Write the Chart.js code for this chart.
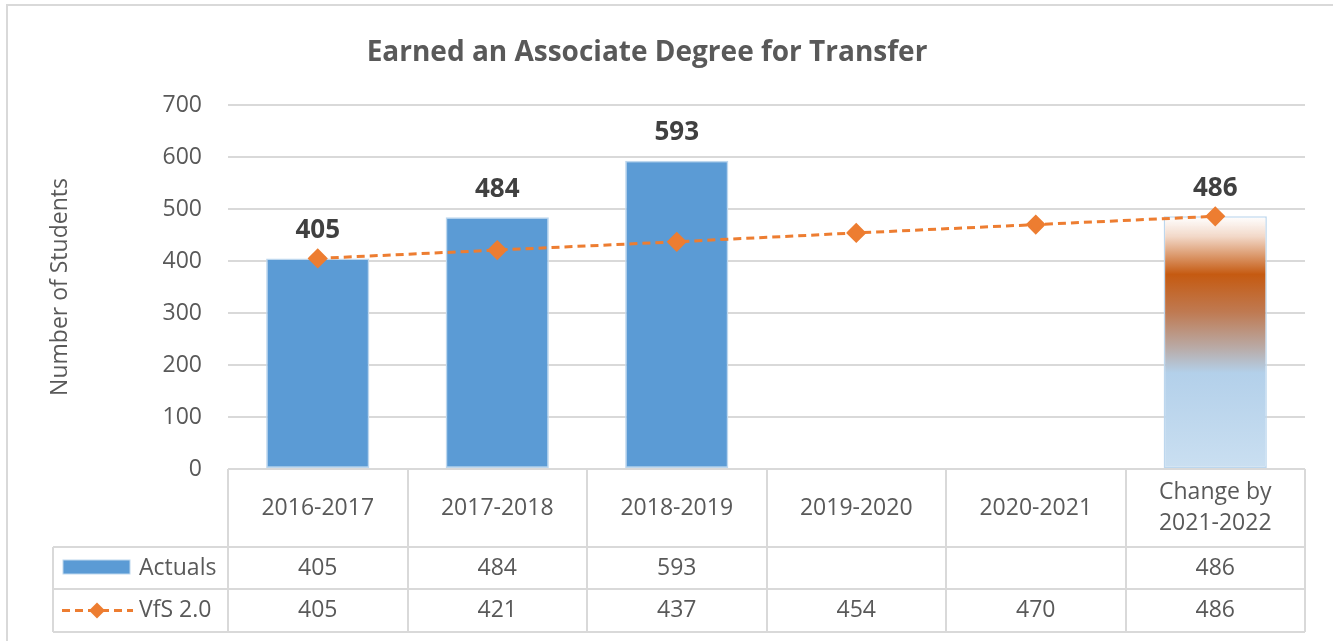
<!DOCTYPE html>
<html>
<head>
<meta charset="utf-8">
<script src="https://cdn.jsdelivr.net/npm/chart.js@4.4.1/dist/chart.umd.min.js"></script>
<style>
  html, body { margin: 0; padding: 0; background: #fff; }
  #wrap { position: relative; width: 1333px; height: 641px; }
</style>
</head>
<body>
<div id="wrap"><canvas id="adtChart" width="1333" height="641"></canvas></div>
<script>
const years = ["2016-2017", "2017-2018", "2018-2019", "2019-2020", "2020-2021", ["Change by", "2021-2022"]];
const actuals = [405, 484, 593, null, null, 486];
const vfsGoal = [405, 421, 437, 454, 470, 486];
const yTicks = [0, 100, 200, 300, 400, 500, 600, 700];

const font = "'Open Sans', Lato, sans-serif";
const grey = "#595959";
const lineColor = "#d9d9d9";

// last bar is the goal bar, drawn with the faded orange/blue fill
function barFill(context) {
  const i = context.dataIndex;
  if (i !== actuals.length - 1) return "#5b9bd5";
  const chart = context.chart;
  const y = chart.scales.y;
  if (!y || !chart.chartArea) return "#b4d1ea";
  const top = y.getPixelForValue(actuals[i]);
  const bottom = y.getPixelForValue(0);
  const g = chart.ctx.createLinearGradient(0, top, 0, bottom);
  g.addColorStop(0, "rgba(255,255,255,0.9)");
  g.addColorStop(0.08, "#f2d8c8");
  g.addColorStop(0.23, "#c55a11");
  g.addColorStop(0.38, "#bf7a52");
  g.addColorStop(0.52, "#b9aaa6");
  g.addColorStop(0.62, "#b3d0ea");
  g.addColorStop(1, "#cadff1");
  return g;
}

const decorations = {
  id: "decorations",
  beforeDraw(chart) {
    const ctx = chart.ctx;
    ctx.save();
    ctx.strokeStyle = lineColor;
    ctx.lineWidth = 2;
    ctx.strokeRect(7, 5, 1345, 640);
    ctx.restore();
  },
  afterDraw(chart) {
    const ctx = chart.ctx;
    const x = chart.scales.x;
    const area = chart.chartArea;
    const colW = x.width / years.length;
    const legendLeft = 53;
    const rowTop = area.bottom;
    const row1 = 547, row2 = 589, row3 = 632;

    ctx.save();
    // title
    ctx.fillStyle = grey;
    ctx.font = "bold 28px " + font;
    ctx.textAlign = "center";
    ctx.textBaseline = "middle";
    ctx.fillText("Earned an Associate Degree for Transfer", 647, 53);

    // value labels above bars
    const barMeta = chart.getDatasetMeta(0);
    ctx.fillStyle = "#404040";
    ctx.font = "bold 26px " + font;
    actuals.forEach((v, i) => {
      if (v == null) return;
      const bar = barMeta.data[i];
      ctx.fillText(String(v), bar.x, bar.y - 28);
    });

    // data table grid
    ctx.strokeStyle = lineColor;
    ctx.lineWidth = 2;
    ctx.beginPath();
    for (let i = 0; i <= years.length; i++) {
      const cx = Math.round(area.left + i * colW);
      ctx.moveTo(cx, rowTop);
      ctx.lineTo(cx, row3);
    }
    ctx.moveTo(legendLeft, row1);
    ctx.lineTo(legendLeft, row3);
    [row1, row2, row3].forEach((ry) => {
      ctx.moveTo(legendLeft, ry);
      ctx.lineTo(area.right, ry);
    });
    ctx.stroke();

    // table text
    ctx.fillStyle = grey;
    ctx.font = "23px " + font;
    ctx.textAlign = "center";
    years.forEach((lab, i) => {
      const cx = x.getPixelForValue(i);
      if (Array.isArray(lab)) {
        ctx.fillText(lab[0], cx, 492);
        ctx.fillText(lab[1], cx, 523);
      } else {
        ctx.fillText(lab, cx, 508);
      }
      if (actuals[i] != null) ctx.fillText(String(actuals[i]), cx, (row1 + row2) / 2);
      if (vfsGoal[i] != null) ctx.fillText(String(vfsGoal[i]), cx, (row2 + row3) / 2);
    });

    // legend keys
    ctx.textAlign = "left";
    ctx.fillStyle = "#5b9bd5";
    ctx.fillRect(63, 560, 67, 14);
    ctx.strokeStyle = "#bdd7ee";
    ctx.lineWidth = 1;
    ctx.strokeRect(63, 560, 67, 14);
    ctx.fillStyle = grey;
    ctx.fillText("Actuals", 139, (row1 + row2) / 2);

    const ly = (row2 + row3) / 2;
    ctx.strokeStyle = "#ed7d31";
    ctx.lineWidth = 3;
    ctx.setLineDash([8, 5]);
    ctx.beginPath();
    ctx.moveTo(62, ly);
    ctx.lineTo(133, ly);
    ctx.stroke();
    ctx.setLineDash([]);
    ctx.fillStyle = "#ed7d31";
    ctx.beginPath();
    ctx.moveTo(97, ly - 8);
    ctx.lineTo(105, ly);
    ctx.lineTo(97, ly + 8);
    ctx.lineTo(89, ly);
    ctx.closePath();
    ctx.fill();
    ctx.fillStyle = grey;
    ctx.fillText("VfS 2.0", 139, ly);
    ctx.restore();
  }
};

new Chart(document.getElementById("adtChart"), {
  type: "bar",
  data: {
    labels: years,
    datasets: [
      {
        type: "bar",
        label: "Actuals",
        data: actuals,
        backgroundColor: barFill,
        borderColor: "#bdd7ee",
        borderWidth: 1.5,
        borderSkipped: false,
        barPercentage: 0.575,
        categoryPercentage: 1,
        order: 1,
      },
      {
        type: "line",
        label: "VfS 2.0",
        data: vfsGoal,
        borderColor: "#ed7d31",
        backgroundColor: "#ed7d31",
        borderWidth: 3,
        borderDash: [8, 5],
        pointStyle: "rectRot",
        pointRadius: 8,
        pointHoverRadius: 8,
        tension: 0,
        order: 0,
      },
    ],
  },
  options: {
    responsive: false,
    animation: false,
    layout: { padding: { left: 0, top: 105, right: 28, bottom: 172 } },
    plugins: {
      legend: { display: false },
      title: { display: false },
      tooltip: { enabled: false },
    },
    scales: {
      x: {
        afterFit: (scale) => { scale.height = 0; },
        ticks: { display: false },
        grid: { display: false },
        border: { display: false },
      },
      y: {
        min: 0,
        max: 700,
        afterFit: (scale) => { scale.width = 228; },
        afterBuildTicks: (scale) => { scale.ticks = yTicks.map((v) => ({ value: v })); },
        ticks: {
          color: grey,
          font: { family: font, size: 23 },
          padding: 26,
        },
        grid: { color: lineColor, lineWidth: 2, drawTicks: false },
        border: { display: false },
        title: {
          display: true,
          text: "Number of Students",
          color: grey,
          font: { family: font, size: 23 },
          padding: { top: 47 },
        },
      },
    },
  },
  plugins: [decorations],
});
</script>
</body>
</html>
